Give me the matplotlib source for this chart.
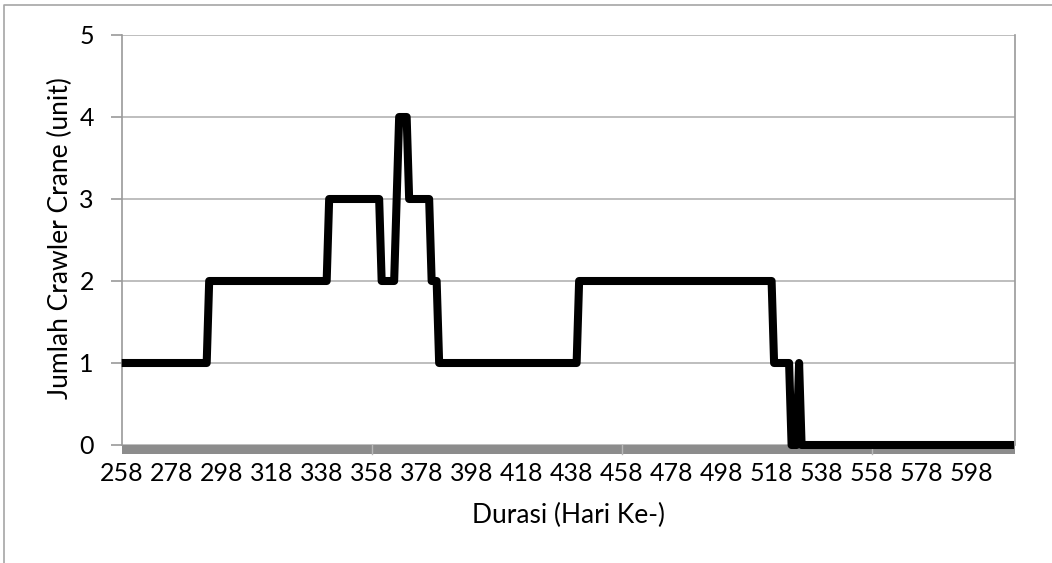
import numpy as np
import matplotlib
matplotlib.use("Agg")
import matplotlib.pyplot as plt
from matplotlib.lines import Line2D
from matplotlib.patches import Rectangle

# ---- data (step levels) ----
change_days = [258, 293, 341, 362, 368, 369, 373, 382, 385, 441, 519, 526, 529, 530]
levels      = [1,   2,   3,   2,   3,   4,   3,   2,   1,   2,   1,   0,   1,   0]
last_day = 615
tick_days = list(range(258, 599, 20))
y_ticks = [0, 1, 2, 3, 4, 5]
x_label = "Durasi (Hari Ke-)"
y_label = "Jumlah Crawler Crane (unit)"

# expand step segments into daily points
bounds = change_days + [last_day + 1]
days = np.arange(change_days[0], last_day + 1)
values = np.repeat(levels, np.diff(bounds))

plt.rcParams['font.family'] = ['Lato', 'DejaVu Sans']

W, H = 1052, 563
fig = plt.figure(figsize=(W / 100, H / 100), dpi=100)
ax_w = 1015.3 - 121.7
ax_h = 445 - 35
ax = fig.add_axes([121.7 / W, 1 - 445 / H, ax_w / W, ax_h / H])

grid_c = '#b3b3b3'
axis_c = '#9a9a9a'

ax.set_xlim(258, last_day + 0.5)
ax.set_ylim(0, 5)
ax.set_yticks(y_ticks)
ax.set_xticks(tick_days)
ax.set_xticklabels([str(d) for d in tick_days])
ax.yaxis.grid(True, color=grid_c, linewidth=1.2)
ax.set_axisbelow(True)

ax.spines['top'].set_visible(False)
ax.spines['left'].set_color(axis_c)
ax.spines['right'].set_color(axis_c)
ax.spines['left'].set_linewidth(1.2)
ax.spines['right'].set_linewidth(1.2)
ax.spines['bottom'].set_visible(False)

ax.tick_params(axis='y', length=8, width=1.2, color=axis_c, labelsize=18, pad=12)
ax.tick_params(axis='x', length=0, labelsize=18, pad=12)

# thick gray category axis band
band_h = 9 / ax_h
ax.add_patch(Rectangle((0, -band_h), 1, band_h, transform=ax.transAxes,
                       facecolor='#8c8c8c', edgecolor='none', clip_on=False, zorder=2))
for d in [358, 458, 558]:
    ax.plot([d, d], [-band_h * 5, 0], color='#b8b8b8', lw=1, clip_on=False, zorder=2.5)

ax.plot(days, values, color='black', lw=5.8, solid_joinstyle='round',
        solid_capstyle='butt', clip_on=False, zorder=3)

ax.set_xlabel(x_label, fontsize=19)
ax.set_ylabel(y_label, fontsize=19)
ax.xaxis.set_label_coords(0.5, (445 - 515) / ax_h)
ax.xaxis.label.set_va('center')
ax.yaxis.set_label_coords((60 - 121.7) / ax_w, (445 - 238) / ax_h)
ax.yaxis.label.set_va('center')

# outer chart border (top and left visible)
fig.add_artist(Line2D([3.5 / W, 3.5 / W, 1.0], [0.0, 1 - 5 / H, 1 - 5 / H],
                      transform=fig.transFigure, color='#a6a6a6', lw=1.2))

fig.savefig('out.png', dpi=100, facecolor='white')
